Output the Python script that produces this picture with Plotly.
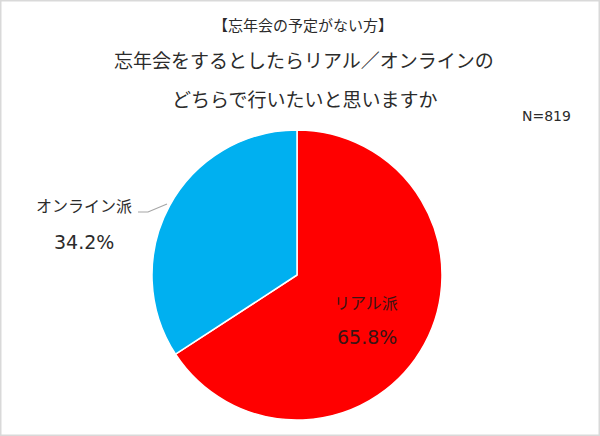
import plotly.graph_objects as go

labels = ["リアル派", "オンライン派"]
values = [65.8, 34.2]
colors = ["#FF0000", "#00B0F0"]
subtitle = "【忘年会の予定がない方】"
title_lines = ["忘年会をするとしたらリアル／オンラインの", "どちらで行いたいと思いますか"]
n_label = "N=819"

FONT = "Noto Sans CJK JP"
NUMFONT = "DejaVu Sans"
W, H = 600, 436
CX, CY, R = 297, 275, 145

fig = go.Figure(go.Pie(
    labels=labels, values=values, sort=False, direction="clockwise", rotation=0,
    marker=dict(colors=colors, line=dict(color="white", width=1.5)),
    textinfo="none", hoverinfo="none", showlegend=False,
    domain=dict(x=[(CX-R)/W, (CX+R)/W], y=[(H-CY-R)/H, (H-CY+R)/H]),
))

def px(x, y):
    return x / W, (H - y) / H

ann = []
def add(text, x, y, size, color="#2b2b2b", family=FONT, xanchor="center"):
    ax, ay = px(x, y)
    ann.append(dict(text=text, x=ax, y=ay, xref="paper", yref="paper", showarrow=False,
                    font=dict(family=family, size=size, color=color), xanchor=xanchor, yanchor="middle"))

add(subtitle, 303, 24, 15)
add(title_lines[0], 304, 59, 19)
add(title_lines[1], 304, 98, 19)
add(n_label, 573, 116, 14, family=NUMFONT, xanchor="right")
# labels from data
add(labels[1], 84, 205, 16)
add(f"{values[1]:.1f}%", 84, 242, 19, family=NUMFONT)
add(labels[0], 366, 302, 16, "#3a1414")
add(f"{values[0]:.1f}%", 367, 337, 19, "#3a1414", family=NUMFONT)

x0, y0 = px(138, 212)
xm, _ = px(148, 212)
x1, y1 = px(167, 204)
shapes = [
    dict(type="path", xref="paper", yref="paper",
         path=f"M {x0} {y0} L {xm} {y0} L {x1} {y1}",
         line=dict(color="#A6A6A6", width=1.2)),
    dict(type="rect", xref="paper", yref="paper", x0=0, y0=0, x1=1, y1=1,
         line=dict(color="#D9D9D9", width=3)),
]

fig.update_layout(width=W, height=H, margin=dict(l=0, r=0, t=0, b=0),
                  paper_bgcolor="white", plot_bgcolor="white",
                  annotations=ann, shapes=shapes, font=dict(family=FONT))
fig.write_html("out.html", config={"displayModeBar": False},
               post_script="document.body.style.margin='0px';")
